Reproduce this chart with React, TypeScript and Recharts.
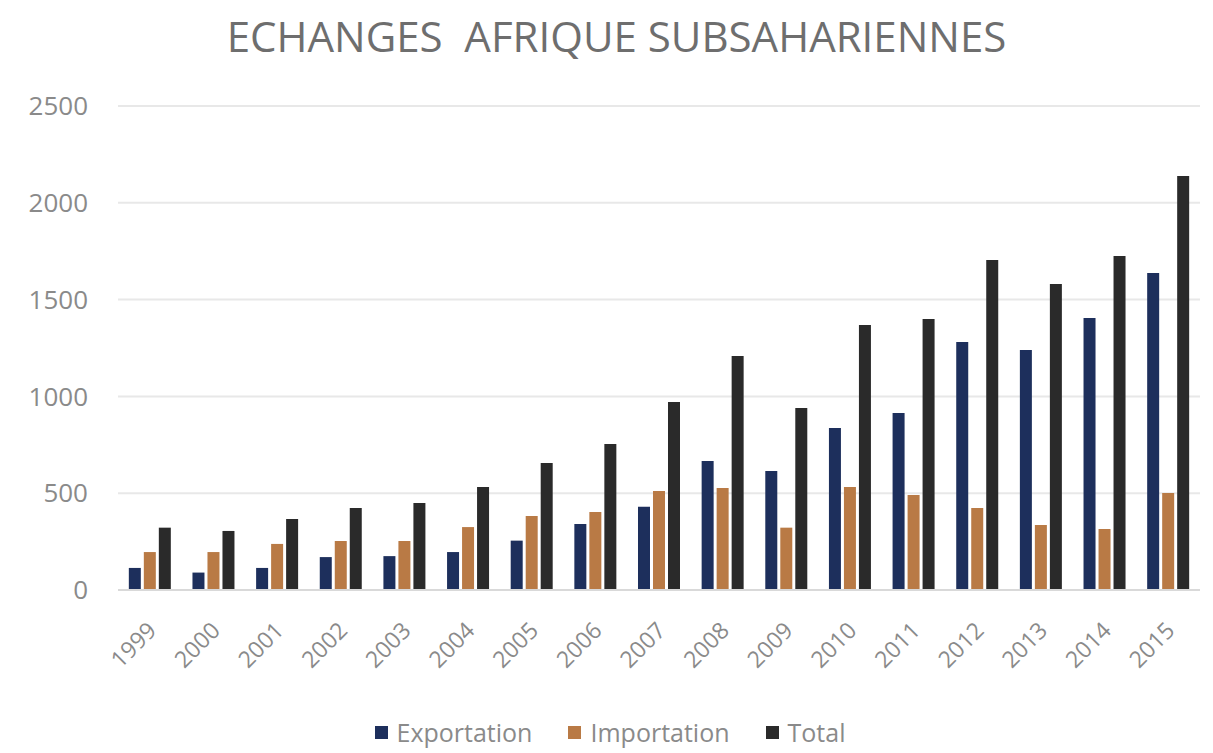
import React from "react";
import {
  BarChart,
  Bar,
  XAxis,
  YAxis,
  CartesianGrid,
  Legend,
} from "recharts";

const years = [
  "1999", "2000", "2001", "2002", "2003", "2004", "2005", "2006", "2007",
  "2008", "2009", "2010", "2011", "2012", "2013", "2014", "2015",
];
const exportation = [
  114, 90, 114, 170, 175, 196, 255, 341, 430, 666, 615, 837, 914, 1281, 1240, 1405, 1637,
];
const importation = [
  196, 196, 238, 253, 253, 325, 382, 403, 511, 527, 322, 532, 491, 424, 336, 315, 501,
];
const total = [
  322, 305, 367, 424, 450, 532, 656, 754, 971, 1209, 940, 1369, 1400, 1705, 1581, 1725, 2138,
];
const yTicks = [0, 500, 1000, 1500, 2000, 2500];

const seriesNames = ["Exportation", "Importation", "Total"];
const seriesColors = ["#1d2f5c", "#b97a45", "#2a2a2a"];

const data = years.map((y, i) => ({
  year: y,
  Exportation: exportation[i],
  Importation: importation[i],
  Total: total[i],
}));

const FONT = "'Open Sans', sans-serif";

// rotated year labels, anchored at the end like the spreadsheet export
const YearTick = (props: any) => {
  const { x, y, payload } = props;
  const tx = x + 8;
  const ty = y + 34;
  return (
    <text
      x={tx}
      y={ty}
      transform={`rotate(-45, ${tx}, ${ty})`}
      textAnchor="end"
      fill="#8a8a8a"
      fontSize={23}
      fontFamily={FONT}
    >
      {payload.value}
    </text>
  );
};

const LegendBox = () => (
  <div
    style={{
      display: "flex",
      justifyContent: "center",
      gap: 36,
      fontFamily: FONT,
      fontSize: 25,
      color: "#8a8a8a",
      paddingLeft: 20,
      marginTop: 2,
    }}
  >
    {seriesNames.map((n, i) => (
      <div key={n} style={{ display: "flex", alignItems: "center" }}>
        <span
          style={{
            width: 13,
            height: 13,
            background: seriesColors[i],
            marginRight: 9,
            display: "inline-block",
          }}
        />
        {n}
      </div>
    ))}
  </div>
);

export default function App() {
  return (
    <div style={{ position: "absolute", left: 0, top: 0, width: 1213, height: 753, background: "#fff" }}>
      <div
        style={{
          position: "absolute",
          top: 7,
          left: 0,
          width: 1213,
          textAlign: "center",
          fontFamily: FONT,
          fontSize: 42,
          color: "#6e6e6e",
          paddingLeft: 20,
          boxSizing: "border-box",
        }}
      >
        ECHANGES&nbsp; AFRIQUE SUBSAHARIENNES
      </div>
      <BarChart
        width={1213}
        height={753}
        data={data}
        margin={{ top: 106, right: 13, left: 0, bottom: 0 }}
        barCategoryGap="17%"
        barGap={3}
      >
        <CartesianGrid vertical={false} stroke="#e8e8e8" strokeWidth={2} />
        <XAxis
          dataKey="year"
          interval={0}
          tick={<YearTick />}
          tickLine={false}
          axisLine={{ stroke: "#d9d9d9", strokeWidth: 2 }}
          height={123}
        />
        <YAxis
          domain={[0, 2500]}
          ticks={yTicks}
          width={118}
          axisLine={false}
          tickLine={false}
          tickMargin={24}
          tick={{ fill: "#8a8a8a", fontSize: 26, fontFamily: FONT }}
        />
        <Legend verticalAlign="bottom" height={40} content={<LegendBox />} />
        {seriesNames.map((n, i) => (
          <Bar key={n} dataKey={n} fill={seriesColors[i]} isAnimationActive={false} />
        ))}
      </BarChart>
    </div>
  );
}
